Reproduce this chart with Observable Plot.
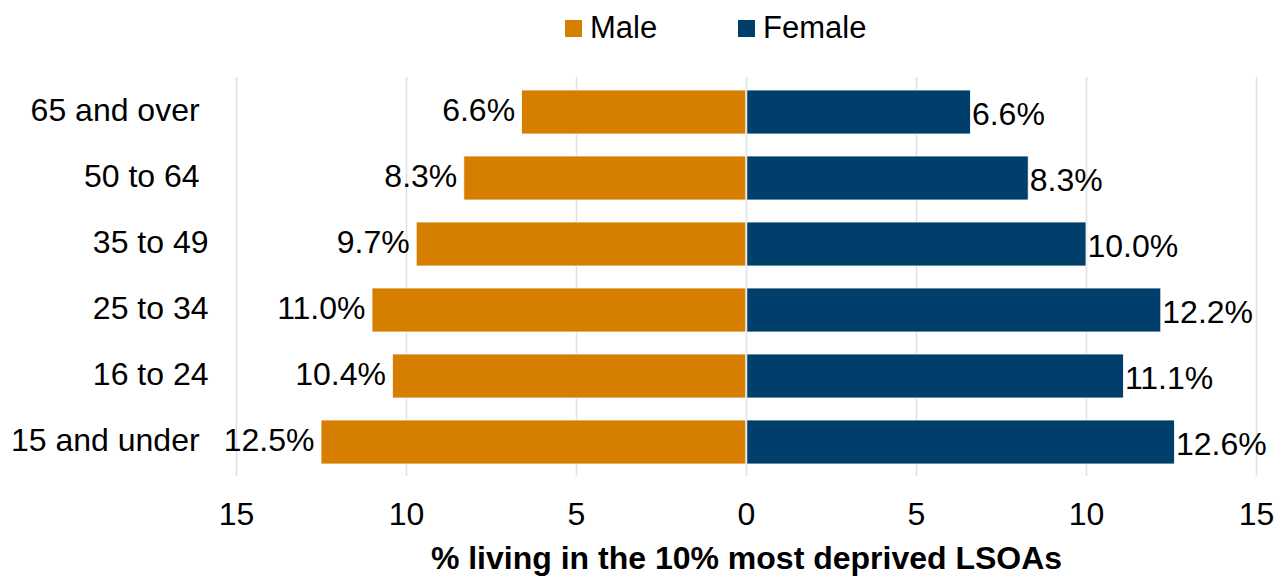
<!DOCTYPE html>
<html>
<head>
<meta charset="utf-8">
<script src="https://cdn.jsdelivr.net/npm/d3@7"></script>
<script src="https://cdn.jsdelivr.net/npm/@observablehq/plot@0.6"></script>
<style>
  html, body { margin: 0; padding: 0; background: #fff; }
  body { width: 1274px; height: 576px; overflow: hidden; font-family: "Liberation Sans", Arial, sans-serif; }
  #legend { position: relative; height: 56px; font-size: 31px; color: #000; }
  .item { position: absolute; top: 11px; display: flex; align-items: center; height: 34px; }
  .sw { width: 17px; height: 17px; margin-right: 8px; }
  #chart svg { display: block; }
</style>
</head>
<body>
<div id="legend"></div>
<div id="chart"></div>
<script>
const categories = ["65 and over", "50 to 64", "35 to 49", "25 to 34", "16 to 24", "15 and under"];
const maleValues = [6.6, 8.3, 9.7, 11.0, 10.4, 12.5];
const femaleValues = [6.6, 8.3, 10.0, 12.2, 11.1, 12.6];
const seriesNames = ["Male", "Female"];
const seriesColors = ["#D67E00", "#003E6B"];
const tickValues = [-15, -10, -5, 0, 5, 10, 15];
const axisTitle = "% living in the 10% most deprived LSOAs";

const rows = [];
categories.forEach((c, i) => {
  rows.push({cat: c, sex: "Male", value: maleValues[i], signed: -maleValues[i]});
  rows.push({cat: c, sex: "Female", value: femaleValues[i], signed: femaleValues[i]});
});

const legend = document.getElementById("legend");
const legendLeft = [565, 738];
seriesNames.forEach((n, i) => {
  const it = document.createElement("div");
  it.className = "item";
  it.style.left = legendLeft[i] + "px";
  it.innerHTML = `<div class="sw" style="background:${seriesColors[i]}"></div><span>${n}</span>`;
  legend.appendChild(it);
});

const labelMap = {"65 and over": "65 and over\u00a0", "50 to 64": "50 to 64\u00a0", "15 and under": "15 and under\u00a0"};
const fmt = d => d.value.toFixed(1) + "%";

const plot = Plot.plot({
  width: 1274,
  height: 520,
  marginLeft: 236,
  marginRight: 18,
  marginTop: 21,
  marginBottom: 100,
  style: {fontFamily: "Liberation Sans, Arial, sans-serif", fontSize: "32px", color: "#000", background: "#fff", overflow: "visible"},
  x: {domain: [-15, 15], ticks: tickValues, tickFormat: d => Math.abs(d), label: null},
  y: {domain: categories, paddingInner: 0.34, paddingOuter: 0.17, label: null},
  color: {domain: seriesNames, range: seriesColors},
  marks: [
    Plot.ruleX(tickValues, {stroke: "#e0e0e0", strokeWidth: 1.5}),
    Plot.barX(rows, {y: "cat", x: "signed", fill: "sex", stroke: "#fff", strokeWidth: 0.8, inset: 0}),
    Plot.ruleX([0], {stroke: "#e6e6e6", strokeWidth: 1.5}),
    Plot.text(rows.filter(d => d.sex === "Male"), {y: "cat", x: "signed", text: fmt, textAnchor: "end", dx: -7, dy: -2, fontSize: 32, fill: "#000"}),
    Plot.text(rows.filter(d => d.sex === "Female"), {y: "cat", x: "signed", text: fmt, textAnchor: "start", dx: 1, dy: 2, fontSize: 32, fill: "#000"}),
    Plot.axisX({ticks: tickValues, tickFormat: d => Math.abs(d), tickSize: 0, tickPadding: 26, fontSize: 32, label: axisTitle, labelAnchor: "center", labelArrow: "none", labelOffset: 92}),
    Plot.axisY({tickSize: 0, tickPadding: 28, fontSize: 32, dy: -2, tickFormat: d => labelMap[d] || d, label: null})
  ]
});
document.getElementById("chart").appendChild(plot);
plot.querySelectorAll("g[aria-label='x-axis label'] text").forEach(t => { t.style.fontWeight = "bold"; });
</script>
</body>
</html>
